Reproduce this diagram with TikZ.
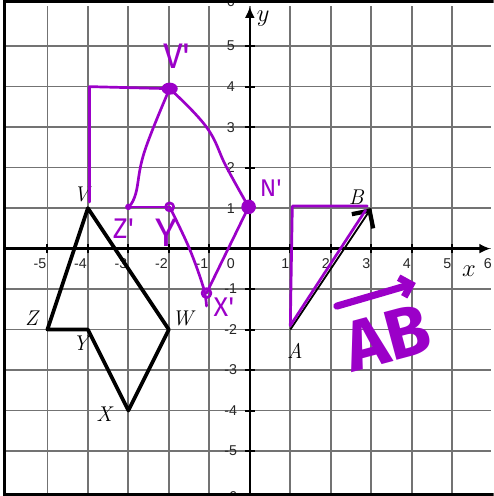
\documentclass[tikz,border=0pt]{standalone}
\usepackage{fontspec}
\setsansfont{Liberation Sans}
\newfontfamily\handfont{Fira Sans}
\usetikzlibrary{arrows.meta}
\definecolor{markerpurple}{RGB}{155,0,200}
\definecolor{gridgray}{RGB}{115,115,115}

\begin{document}
\begin{tikzpicture}[
    gridline/.style={gridgray, line width=1.2pt},
    axis/.style={line width=1.6pt, -{Latex[length=8pt,width=7pt]}},
    ticklbl/.style={font=\sffamily\fontsize{10}{10}\selectfont, text=black!85, inner sep=0pt},
    ptlbl/.style={font=\fontsize{15}{15}\selectfont\itshape, inner sep=0pt},
    ink/.style={markerpurple, line width=1.9pt, line cap=round, line join=round},
    hand/.style={markerpurple, font=\handfont\fontsize{#1}{#1}\selectfont, inner sep=0pt}
  ]
  \useasboundingbox (-6.17,-6.11) rectangle (6.02,6.14);
  \clip (-6.17,-6.11) rectangle (6.02,6.14);
  % grid
  \foreach \i in {-5,...,5} {
    \draw[gridline] (-6.05,\i) -- (5.95,\i);
    \draw[gridline] (\i,-6.07) -- (\i,5.99);
  }
  % axes
  \coordinate (xstart) at (-6.05,0);
  \coordinate (xend)   at (5.95,0);
  \coordinate (ystart) at (0,-6.07);
  \coordinate (yend)   at (0,5.98);
  \draw[axis] (xstart) -- (xend);
  \draw[axis] (ystart) -- (yend);
  \foreach \i in {-5,...,5} {
    \draw[line width=1.4pt] (\i,-0.12) -- (\i,0.12);
    \draw[line width=1.4pt] (-0.12,\i) -- (0.12,\i);
  }
  \foreach \i in {-5,...,-1,1,2,...,6}
    \node[ticklbl, anchor=east] at (\i-0.02,-0.36) {\i};
  \foreach \i in {-5,...,-1,1,2,...,5}
    \node[ticklbl] at (-0.47,\i) {\i};
  \node[ticklbl] (ysix) at (-0.47,6.1) {6};
  \node[ticklbl] (yminsix) at (-0.47,-6.12) {-6};
  \node[ticklbl] (zero) at (-0.47,-0.36) {0};
  \node[font=\fontsize{17}{17}\selectfont] (xlbl) at (5.41,-0.55) {$x$};
  \node[font=\fontsize{17}{17}\selectfont] (ylbl) at (0.33,5.68) {$y$};

  % original figure
  \coordinate (V) at (-4,1);
  \coordinate (W) at (-2,-2);
  \coordinate (X) at (-3,-4);
  \coordinate (Y) at (-4,-2);
  \coordinate (Z) at (-5,-2);
  \draw[line width=2.6pt, line join=round] (V) -- (W) -- (X) -- (Y) -- (Z) -- cycle;
  \node[ptlbl] (Vlbl) at (-4.16,1.34) {V};
  \node[ptlbl] (Wlbl) at (-1.66,-1.72) {W};
  \node[ptlbl] (Xlbl) at (-3.6,-4.1) {X};
  \node[ptlbl] (Ylbl) at (-4.18,-2.34) {Y};
  \node[ptlbl] (Zlbl) at (-5.39,-1.72) {Z};

  % vector AB
  \coordinate (A) at (1,-2);
  \coordinate (B) at (3,1);
  \draw[line width=1.3pt, -{Straight Barb[length=9pt, width=18pt, line width=3pt]}] (A) -- (B);
  \node[ptlbl] (Albl) at (1.11,-2.53) {A};
  \node[ptlbl] (Blbl) at (2.63,1.26) {B};

  % handwritten translation
  \coordinate (Vp) at (-1.98,3.95);
  \coordinate (Np) at (-0.03,1.03);
  \coordinate (Zp) at (-3,1.03);
  \coordinate (Yp) at (-1.98,1.03);
  \coordinate (Xp) at (-1.07,-1.1);
  \coordinate (Vcorner) at (-3.96,4.0);
  \coordinate (Vfoot) at (-3.96,1.15);
  \draw[ink] (Vfoot) -- (Vcorner) -- (Vp);
  \draw[ink] plot[smooth, tension=0.7] coordinates {(Vp) (-2.6,2.4) (-2.82,1.35) (Zp)};
  \draw[ink] plot[smooth, tension=0.7] coordinates {(Vp) (-1.07,3.0) (-0.58,2.02) (Np)};
  \draw[ink] (Zp) -- (Yp);
  \draw[ink] plot[smooth, tension=0.6] coordinates {(Yp) (-1.5,0.02) (-1.15,-0.95) (-1.07,-1.42)};
  \draw[ink] (Xp) -- (Np);
  \fill[markerpurple] (Vp) ellipse (0.2 and 0.15);
  \fill[markerpurple] (Np) circle (0.18);
  \fill[markerpurple] (Zp) circle (0.08);
  \draw[ink] (Yp) circle (0.1);
  \draw[ink] (Xp) circle (0.11);
  \node[hand=25] (Vplbl) at (-1.8,4.75) {V\textquotesingle};
  \node[hand=20] (Zplbl) at (-3.12,0.5) {Z\textquotesingle};
  \node[hand=28] (Yplbl) at (-2.05,0.38) {Y};
  \node[hand=19] (Xplbl) at (-0.64,-1.44) {X\textquotesingle};
  \node[hand=17] (Nplbl) at (0.52,1.5) {N\textquotesingle};

  % purple copy of the vector
  \coordinate (Ap) at (1.0,-1.9);
  \coordinate (Bp) at (2.86,0.95);
  \coordinate (Acorner) at (1.05,1.05);
  \coordinate (Bcorner) at (2.9,1.05);
  \draw[ink] (Ap) -- (Acorner) -- (Bcorner);
  \draw[ink] (Ap) -- (Bp);
  \coordinate (ABleft) at (2.15,-1.42);
  \coordinate (ABright) at (4.1,-0.85);
  \draw[markerpurple, line width=5pt, line cap=round,
        -{Straight Barb[length=7pt, width=14pt, line width=5pt]}] (ABleft) -- (ABright);
  \node[markerpurple, inner sep=0pt, font=\handfont\bfseries\fontsize{50}{50}\selectfont,
        rotate=15] (ABlbl) at (3.4,-2.2) {AB};

  % frame
  \draw[line width=2.2pt] (6.02,-6.07) -- (-6.05,-6.07) -- (-6.05,6.1) -- (6.02,6.1);
\end{tikzpicture}
\end{document}
